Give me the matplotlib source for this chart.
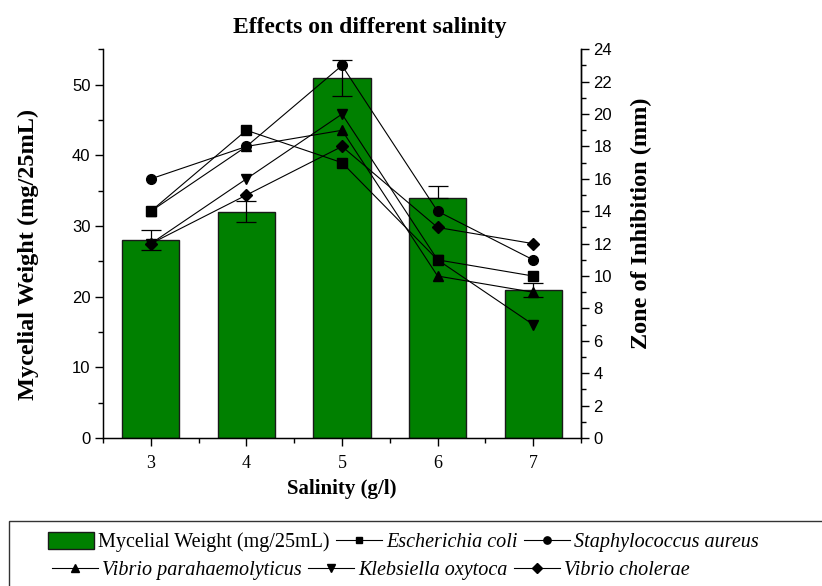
import matplotlib
matplotlib.use("Agg")
import matplotlib.pyplot as plt
from matplotlib.ticker import MultipleLocator
from matplotlib.patches import Rectangle

# ---- data ----
salinity = [3, 4, 5, 6, 7]
mycelial_weight = [28, 32, 51, 34, 21]
mycelial_err_low = [1.4, 1.5, 2.6, 0.0, 1.0]
mycelial_err_high = [1.4, 1.6, 2.5, 1.7, 1.0]

e_coli = [14, 19, 17, 11, 10]
s_aureus = [16, 18, 23, 14, 11]
v_para = [14, 18, 19, 10, 9]
k_oxytoca = [12, 16, 20, 11, 7]
v_cholerae = [12, 15, 18, 13, 12]

series_names = ["Escherichia coli", "Staphylococcus aureus", "Vibrio parahaemolyticus",
                "Klebsiella oxytoca", "Vibrio cholerae"]
series_values = [e_coli, s_aureus, v_para, k_oxytoca, v_cholerae]
series_markers = ["s", "o", "^", "v", "D"]

SERIF = "Liberation Serif"
SANS = "Liberation Sans"

W, H = 822, 586
fig = plt.figure(figsize=(W / 100, H / 100), dpi=100)
ax = fig.add_axes([103 / W, 1 - 438 / H, (581 - 103) / W, (438 - 49.3) / H])

bars = ax.bar(salinity, mycelial_weight, width=0.6, color="#008000",
              edgecolor="#1a1a1a", linewidth=1.0, zorder=2)
ax.errorbar(salinity, mycelial_weight, yerr=[mycelial_err_low, mycelial_err_high], fmt="none",
            ecolor="black", elinewidth=0.9, capsize=7, capthick=0.9, zorder=3)

ax.set_xlim(2.5, 7.5)
ax.set_ylim(0, 55)
ax.xaxis.set_major_locator(MultipleLocator(1))
ax.xaxis.set_minor_locator(MultipleLocator(0.5))
ax.yaxis.set_major_locator(MultipleLocator(10))
ax.yaxis.set_minor_locator(MultipleLocator(5))
ax.spines["top"].set_visible(False)
for s in ["left", "bottom", "right"]:
    ax.spines[s].set_linewidth(1.0)
ax.tick_params(which="major", direction="out", length=6, width=1.0)
ax.tick_params(which="minor", direction="out", length=3.5, width=1.0)
ax.tick_params(axis="y", labelsize=12, pad=3)
ax.tick_params(axis="x", labelsize=13, pad=6)
for lab in ax.get_yticklabels():
    lab.set_fontfamily(SANS)
for lab in ax.get_xticklabels():
    lab.set_fontfamily(SERIF)

ax.set_xlabel("Salinity (g/l)", fontsize=15, fontweight="bold", family=SERIF, labelpad=5)
ax.set_ylabel("Mycelial Weight (mg/25mL)", fontsize=17.5, fontweight="bold", family=SERIF)
ax.yaxis.set_label_coords((39 - 103) / 478, (438 - 254) / 388.7)

ax2 = ax.twinx()
ax2.set_ylim(0, 24)
ax2.yaxis.set_major_locator(MultipleLocator(2))
ax2.yaxis.set_minor_locator(MultipleLocator(1))
ax2.spines["top"].set_visible(False)
ax2.spines["right"].set_linewidth(1.0)
ax2.tick_params(which="major", direction="out", length=6, width=1.0, labelsize=12, pad=3)
ax2.tick_params(which="minor", direction="out", length=3.5, width=1.0)
for lab in ax2.get_yticklabels():
    lab.set_fontfamily(SANS)
ax2.set_ylabel("Zone of Inhibition (mm)", fontsize=17.5, fontweight="bold", family=SERIF)
ax2.yaxis.set_label_coords((631 - 103) / 478, (438 - 223) / 388.7)

line_handles = []
for name, vals, mk in zip(series_names, series_values, series_markers):
    ms = 6.5 if mk in ("s", "D") else 7
    (ln,) = ax2.plot(salinity, vals, color="black", linewidth=0.8, marker=mk,
                     markersize=ms, markerfacecolor="black", markeredgecolor="black",
                     label=name, zorder=4)
    line_handles.append(ln)

fig.text(370 / W, 1 - 27 / H, "Effects on different salinity", ha="center", va="center",
         fontsize=17, fontweight="bold", family=SERIF)

# legend frame
fig.patches.append(Rectangle((9 / W, -0.05), 1.0, 0.05 + (586 - 521) / H,
                             transform=fig.transFigure, facecolor="none",
                             edgecolor="#333333", linewidth=1.0))

leg_kw = dict(frameon=False, ncol=3, loc="center left", bbox_transform=fig.transFigure,
              borderpad=0, borderaxespad=0, handlelength=2.3, handletextpad=0.2,
              columnspacing=0.3, markerscale=0.75)

row1_handles = [bars, line_handles[0], line_handles[1]]
row1_labels = ["Mycelial Weight (mg/25mL)", series_names[0], series_names[1]]
leg1 = fig.legend(row1_handles, row1_labels, bbox_to_anchor=(48 / W, 1 - 542 / H),
                  prop={"family": SERIF, "size": 14.5}, handleheight=0.9, **leg_kw)
for t in leg1.get_texts()[1:]:
    t.set_fontstyle("italic")

row2_handles = [line_handles[2], line_handles[3], line_handles[4]]
row2_labels = [series_names[2], series_names[3], series_names[4]]
leg2 = fig.legend(row2_handles, row2_labels, bbox_to_anchor=(52 / W, 1 - 570 / H),
                  prop={"family": SERIF, "size": 14.5, "style": "italic"}, **leg_kw)

fig.savefig("out.png", dpi=100)
